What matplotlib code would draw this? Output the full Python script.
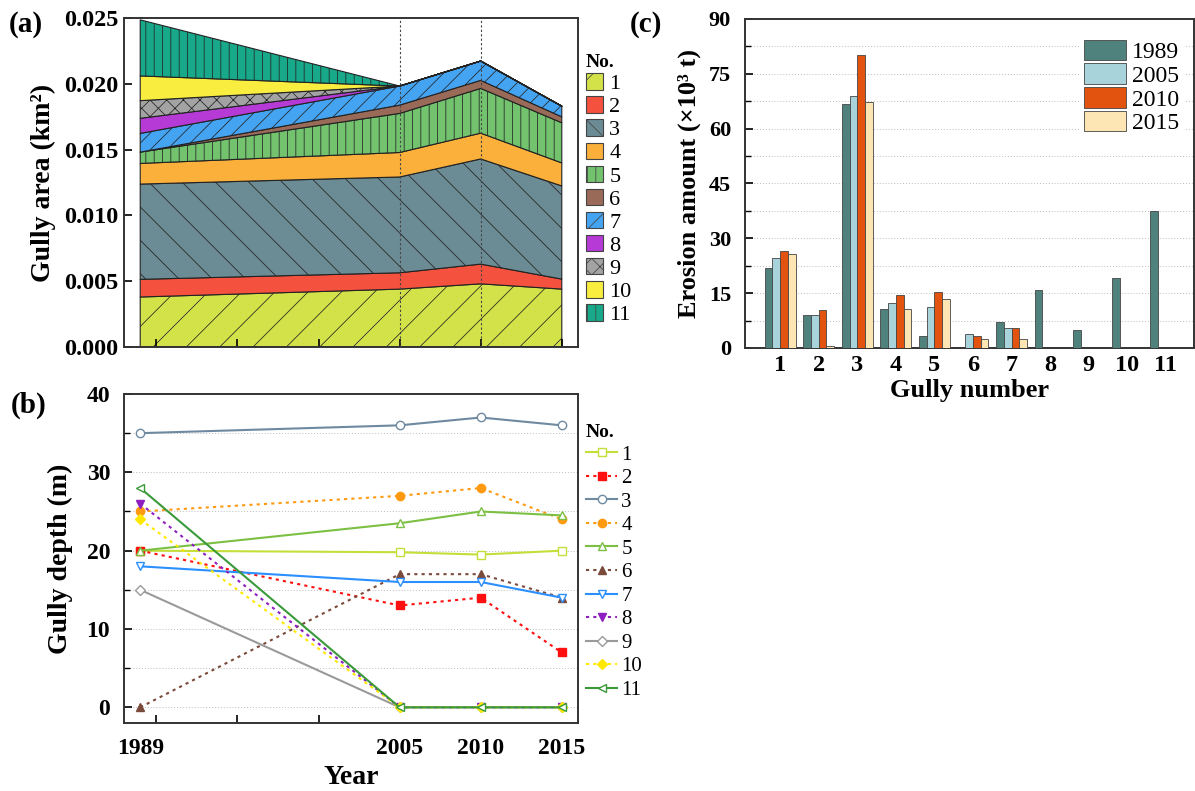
import numpy as np
import matplotlib
matplotlib.use("Agg")
import matplotlib.pyplot as plt
from matplotlib.patches import Patch
from matplotlib.lines import Line2D
from matplotlib.ticker import MultipleLocator, FormatStrFormatter

plt.rcParams['font.family'] = ['Liberation Serif', 'DejaVu Serif']
plt.rcParams['hatch.color'] = '#3a3a3a'
plt.rcParams['hatch.linewidth'] = 0.55

# ---------------- data ----------------
years = [1989, 2005, 2010, 2015]
gullies = ['1', '2', '3', '4', '5', '6', '7', '8', '9', '10', '11']

# (a) gully area, km^2
area_1 = [0.0038, 0.0044, 0.0048, 0.0044]
area_2 = [0.00134, 0.00124, 0.0015, 0.00076]
area_3 = [0.00724, 0.00728, 0.00799, 0.00708]
area_4 = [0.00157, 0.00186, 0.00196, 0.00175]
area_5 = [0.00086, 0.00297, 0.0034, 0.00305]
area_6 = [0.0, 0.00063, 0.00061, 0.00045]
area_7 = [0.00142, 0.00145, 0.00147, 0.00081]
area_8 = [0.00115, 0.0, 0.0, 0.0]
area_9 = [0.00134, 0.0, 0.0, 0.0]
area_10 = [0.00188, 0.0, 0.0, 0.0]
area_11 = [0.00426, 0.0, 0.0, 0.0]

# (b) gully depth, m
depth_1 = [20, 19.8, 19.5, 20]
depth_2 = [20, 13, 14, 7]
depth_3 = [35, 36, 37, 36]
depth_4 = [25, 27, 28, 24]
depth_5 = [20, 23.5, 25, 24.5]
depth_6 = [0, 17, 17, 14]
depth_7 = [18, 16, 16, 14]
depth_8 = [26, 0, 0, 0]
depth_9 = [15, 0, 0, 0]
depth_10 = [24, 0, 0, 0]
depth_11 = [28, 0, 0, 0]

# (c) erosion amount, x10^3 t
erosion_years = ['1989', '2005', '2010', '2015']
erosion_1989 = [22.0, 8.9, 66.8, 10.7, 3.4, 0, 7.2, 16.0, 4.9, 19.1, 37.5]
erosion_2005 = [24.7, 8.9, 68.9, 12.4, 11.3, 3.8, 5.5, 0, 0, 0, 0]
erosion_2010 = [26.4, 10.3, 80.1, 14.4, 15.3, 3.4, 5.5, 0, 0, 0, 0]
erosion_2015 = [25.8, 0.6, 67.3, 10.7, 13.5, 2.5, 2.5, 0, 0, 0, 0]

# ---------------- styles ----------------
area_colors = ['#d4e24a', '#f4513f', '#6b8b95', '#fbb03b', '#72c26e', '#9a6a58',
               '#45a4f2', '#b53ad6', '#a3a3a3', '#f9ee3f', '#17a98a']
area_hatches = ['/', '', '\\', '', '||', '', '//', '', 'xx', '', '||']

line_colors = ['#c6de3a', '#ff1010', '#6f8aa0', '#ff9a10', '#7cc043', '#7a4a3a',
               '#2b8fff', '#8e1ec0', '#9a9a9a', '#ffe800', '#3a9a3a']
line_styles = ['-', ':', '-', ':', '-', ':', '-', ':', '-', ':', '-']
markers = ['s', 's', 'o', 'o', '^', '^', 'v', 'v', 'D', 'D', '<']
filled = [False, True, False, True, False, True, False, True, False, True, False]

bar_colors = ['#4f817d', '#a9d3db', '#e2530f', '#fde6b4']

W, H = 1195, 791
fig = plt.figure(figsize=(W / 100, H / 100), dpi=100)


def px_axes(l, r, t, b):
    return fig.add_axes([l / W, 1 - b / H, (r - l) / W, (b - t) / H])


spine_lw = 1.4

# ================= (a) =================
axa = px_axes(124, 578, 18, 347)
areas = [area_1, area_2, area_3, area_4, area_5, area_6, area_7, area_8, area_9, area_10, area_11]
polys = axa.stackplot(years, *areas, colors=area_colors, hatch=area_hatches,
                      edgecolor='#222222', linewidth=0.8)
axa.axvline(2005, color='#444444', linestyle=(0, (2, 2)), linewidth=0.8, zorder=3)
axa.axvline(2010, color='#444444', linestyle=(0, (2, 2)), linewidth=0.8, zorder=3)
axa.set_xlim(1988, 2016)
axa.set_ylim(0, 0.025)
axa.yaxis.set_major_locator(MultipleLocator(0.005))
axa.yaxis.set_major_formatter(FormatStrFormatter('%.3f'))
axa.set_xticks(np.arange(1990, 2016, 5))
axa.set_xticklabels([])
axa.tick_params(axis='both', direction='in', length=6, width=1.2)
axa.tick_params(axis='y', labelsize=17.5, pad=4)
for lab in axa.get_yticklabels():
    lab.set_fontweight('bold')
axa.set_ylabel('Gully area (km²)', fontsize=20, fontweight='bold', labelpad=6)
for s in axa.spines.values():
    s.set_linewidth(spine_lw)
    s.set_color('#333333')

handles_a = [Patch(facecolor=c, edgecolor='#444444', hatch=h, linewidth=0.8)
             for c, h in zip(area_colors, area_hatches)]
leg_a = fig.legend(handles_a, gullies, loc='upper left', bbox_to_anchor=(586 / W, 1 - 54 / H),
                   frameon=False, fontsize=16, title='No.', title_fontproperties={'weight': 'bold', 'size': 14},
                   handlelength=0.75, handleheight=0.75, handletextpad=0.3, labelspacing=0.1,
                   borderpad=0, borderaxespad=0, alignment='left')

# ================= (b) =================
axb = px_axes(124, 578, 394, 723)
depths = [depth_1, depth_2, depth_3, depth_4, depth_5, depth_6, depth_7, depth_8, depth_9, depth_10, depth_11]
handles_b = []
for i, d in enumerate(depths):
    c = line_colors[i]
    ls = (0, (1.5, 2)) if line_styles[i] == ':' else '-'
    mfc = c if filled[i] else 'white'
    ms = 6 if markers[i] != 'D' else 5
    axb.plot(years, d, color=c, linestyle=ls, linewidth=1.5, marker=markers[i],
             markersize=ms, markerfacecolor=mfc, markeredgecolor=c,
             markeredgewidth=1.0, zorder=3 + i * 0.01, clip_on=False)
    handles_b.append(Line2D([0], [0], color=c, linestyle=ls, linewidth=1.5, marker=markers[i],
                            markersize=ms, markerfacecolor=mfc,
                            markeredgecolor=c, markeredgewidth=1.0))
axb.set_xlim(1988, 2016)
axb.set_ylim(-2, 40)
axb.set_xticks(years)
axb.set_xticklabels([str(y) for y in years])
axb.set_xticks(np.arange(1990, 2016, 5), minor=True)
axb.yaxis.set_major_locator(MultipleLocator(10))
axb.yaxis.set_minor_locator(MultipleLocator(5))
axb.tick_params(axis='x', which='major', length=0, labelsize=17, pad=11)
axb.tick_params(axis='x', which='minor', direction='in', length=6, width=1.2)
axb.tick_params(axis='y', which='major', direction='in', length=6, width=1.2, labelsize=17, pad=10)
axb.tick_params(axis='y', which='minor', direction='in', length=4, width=1.0)
for lab in axb.get_xticklabels() + axb.get_yticklabels():
    lab.set_fontweight('bold')
axb.yaxis.grid(True, which='both', linestyle=(0, (1, 2)), color='#bbbbbb', linewidth=0.7)
axb.set_axisbelow(True)
axb.set_xlabel('Year', fontsize=20, fontweight='bold', labelpad=4)
axb.set_ylabel('Gully depth (m)', fontsize=20, fontweight='bold', labelpad=10)
for s in axb.spines.values():
    s.set_linewidth(spine_lw)
    s.set_color('#333333')

leg_b = fig.legend(handles_b, gullies, loc='upper left', bbox_to_anchor=(586 / W, 1 - 424 / H),
                   frameon=False, fontsize=15, title='No.', title_fontproperties={'weight': 'bold', 'size': 14},
                   handlelength=1.5, handletextpad=0.2, labelspacing=0.19,
                   borderpad=0, borderaxespad=0, alignment='left')

# ================= (c) =================
axc = px_axes(745, 1194, 19, 348)
x = np.arange(1, len(gullies) + 1)
bw = 0.2
series = [erosion_1989, erosion_2005, erosion_2010, erosion_2015]
for k, vals in enumerate(series):
    axc.bar(x + (k - 1.5) * bw, vals, width=bw, color=bar_colors[k], edgecolor='#444444',
            linewidth=0.6, label=erosion_years[k], zorder=3)
axc.set_xlim(0.09, 11.73)
axc.set_ylim(0, 90)
axc.set_xticks(x)
axc.set_xticklabels(gullies)
axc.yaxis.set_major_locator(MultipleLocator(15))
axc.yaxis.set_minor_locator(MultipleLocator(7.5))
axc.tick_params(axis='x', length=0, labelsize=17.5, pad=5)
axc.tick_params(axis='y', which='major', direction='in', length=6, width=1.2, labelsize=16, pad=10)
axc.tick_params(axis='y', which='minor', direction='in', length=4, width=1.0)
for lab in axc.get_xticklabels() + axc.get_yticklabels():
    lab.set_fontweight('bold')
axc.yaxis.grid(True, which='both', linestyle=(0, (1, 2)), color='#bbbbbb', linewidth=0.7)
axc.set_axisbelow(True)
axc.set_xlabel('Gully number', fontsize=19, fontweight='bold', labelpad=2)
axc.set_ylabel('Erosion amount (×10³ t)', fontsize=19, fontweight='bold', labelpad=6)
for s in axc.spines.values():
    s.set_linewidth(spine_lw)
    s.set_color('#333333')

leg_c = axc.legend(loc='upper left', bbox_to_anchor=(1079 / W, 1 - 35 / H),
                   bbox_transform=fig.transFigure, fontsize=17, frameon=True, fancybox=False,
                   framealpha=1, facecolor='white', edgecolor='none',
                   handlelength=1.8, handleheight=0.95, handletextpad=0.25, labelspacing=0.02,
                   borderpad=0.2, borderaxespad=0)
leg_c.set_zorder(5)

# panel labels
fig.text(26 / W, 1 - 25 / H, '(a)', fontsize=21, fontweight='bold', ha='center', va='center')
fig.text(29 / W, 1 - 405 / H, '(b)', fontsize=21, fontweight='bold', ha='center', va='center')
fig.text(646 / W, 1 - 24 / H, '(c)', fontsize=21, fontweight='bold', ha='center', va='center')

fig.savefig('out.png', dpi=100, facecolor='white')
